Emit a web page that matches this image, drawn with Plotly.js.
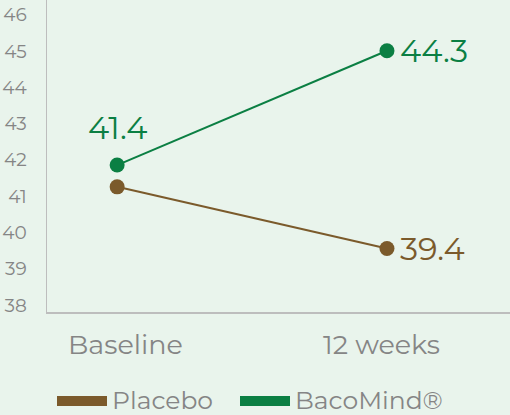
<!DOCTYPE html>
<html><head><meta charset="utf-8">
<script src="https://cdn.plot.ly/plotly-3.0.1.min.js"></script>
<style>html,body{margin:0;padding:0;background:#e9f4ec;}#chart{width:510px;height:415px;}</style>
</head><body><div id="chart"></div>
<script>
const categories = ["Baseline", "12 weeks"];
const placeboName = "Placebo";
const bacoName = "BacoMind®";
const placeboValues = [41.26, 39.56];
const bacoValues = [41.86, 45.01];
const placeboLabels = ["", "39.4"];
const bacoLabels = ["41.4", "44.3"];
const yTicks = [38, 39, 40, 41, 42, 43, 44, 45, 46];

const brown = "#7b5a2b";
const green = "#0b7f43";
const gray = "#858585";
const font = "Montserrat, 'Open Sans', sans-serif";

const traces = [
  {x: categories, y: placeboValues, type: "scatter", mode: "lines+markers", name: placeboName,
   line: {color: brown, width: 2}, marker: {color: brown, size: 15}, showlegend: false, hoverinfo: "none"},
  {x: categories, y: bacoValues, type: "scatter", mode: "lines+markers", name: bacoName,
   line: {color: green, width: 2}, marker: {color: green, size: 15}, showlegend: false, hoverinfo: "none"}
];

const annotations = [];
function addLabels(vals, labels, color) {
  labels.forEach((t, i) => {
    if (!t) return;
    if (i === 0) {
      annotations.push({x: categories[i], y: vals[i], text: t, showarrow: false,
        xanchor: "center", yanchor: "middle", yshift: 38, font: {family: font, size: 32, color: color}});
    } else {
      annotations.push({x: categories[i], y: vals[i], text: t, showarrow: false,
        xanchor: "left", yanchor: "middle", xshift: 11, font: {family: font, size: 32, color: color}});
    }
  });
}
addLabels(placeboValues, placeboLabels, brown);
addLabels(bacoValues, bacoLabels, green);

// category labels (slightly offset from the point positions, as in the original)
const catShift = [8, -5];
categories.forEach((c, i) => {
  annotations.push({x: c, xref: "x", yref: "paper", y: 0, yanchor: "middle", xanchor: "center",
    yshift: -32, xshift: catShift[i], showarrow: false, text: c,
    font: {family: font, size: 27, color: gray}});
});

// custom legend
const legendItems = [{name: placeboName, color: brown, x0: 57}, {name: bacoName, color: green, x0: 240}];
const W = 510, H = 415, ml = 47, mb = 103;
const shapes = [];
legendItems.forEach(it => {
  shapes.push({type: "rect", xref: "paper", yref: "paper",
    x0: (it.x0 - ml) / (W - ml), x1: (it.x0 + 50 - ml) / (W - ml),
    y0: (H - mb - 406) / (H - mb), y1: (H - mb - 396) / (H - mb),
    fillcolor: it.color, line: {width: 0}});
  annotations.push({xref: "paper", yref: "paper", x: (it.x0 + 53 - ml) / (W - ml), y: (H - mb - 400) / (H - mb),
    xanchor: "left", yanchor: "middle", showarrow: false, text: it.name,
    font: {family: font, size: 25, color: gray}});
});

const layout = {
  width: W, height: H,
  margin: {l: ml, r: 0, t: 0, b: mb},
  paper_bgcolor: "#e9f4ec", plot_bgcolor: "#e9f4ec",
  showlegend: false,
  xaxis: {type: "category", range: [-0.26, 1.456], showgrid: false, zeroline: false,
    showline: true, linecolor: "#bdbdbd", linewidth: 1.5, ticks: "", showticklabels: false},
  yaxis: {range: [37.81, 46.41], tickvals: yTicks, showgrid: false, zeroline: false,
    showline: true, linecolor: "#bdbdbd", linewidth: 1.5, ticks: "",
    tickfont: {family: font, size: 18.5, color: gray}, ticklabelstandoff: 15},
  annotations: annotations, shapes: shapes
};
Plotly.newPlot("chart", traces, layout, {staticPlot: true, displayModeBar: false});
</script></body></html>
